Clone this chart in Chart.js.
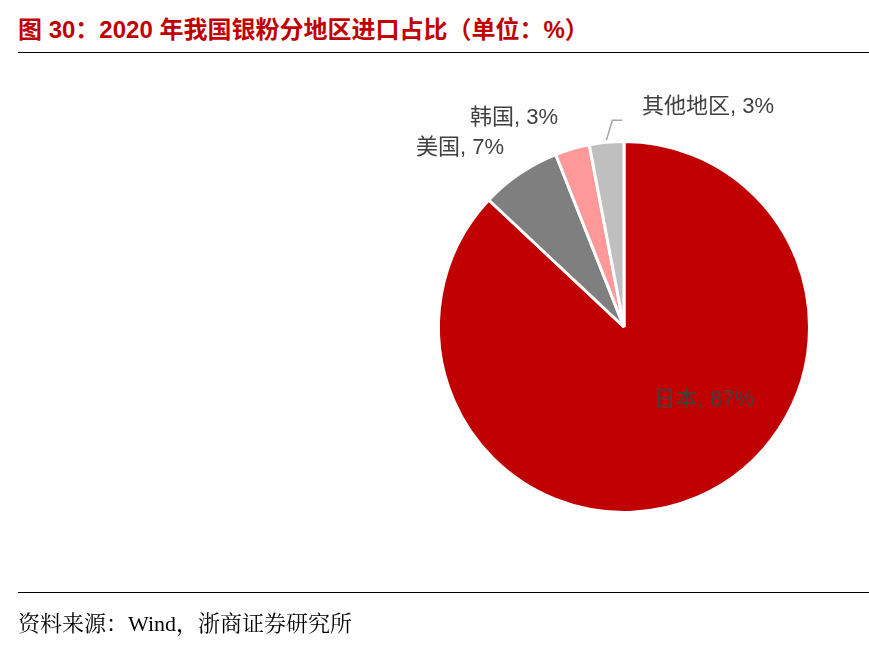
<!DOCTYPE html>
<html><head><meta charset="utf-8">
<script src="https://cdn.jsdelivr.net/npm/chart.js@4"></script>
<style>
body{margin:0;width:869px;height:648px;background:#fff;position:relative;overflow:hidden;font-family:"Liberation Sans","Noto Sans CJK SC",sans-serif}
#t{position:absolute;left:18px;top:10px;font-size:24px;font-weight:bold;color:#C00000;white-space:nowrap}
#l1{position:absolute;left:18px;top:52px;width:851px;border-top:1.5px solid #000}
#l2{position:absolute;left:18px;top:592px;width:851px;border-top:1.5px solid #000}
#s{position:absolute;left:18px;top:606px;font-size:22px;font-family:"Liberation Serif","Noto Serif CJK SC","Noto Sans CJK SC",serif;color:#000}
canvas{position:absolute;left:0;top:0}
</style></head><body>
<div id="t">图 30：2020 年我国银粉分地区进口占比（单位：%）</div>
<div id="l1"></div>
<div id="c"><canvas id="cv" width="869" height="648"></canvas></div>
<div id="l2"></div>
<div id="s">资料来源：Wind，浙商证券研究所</div>
<script>
const categories=["日本","美国","韩国","其他地区"];
const values=[87,7,3,3];
const colors=["#C00000","#7F7F7F","#FF9999","#BFBFBF"];
const labelPos=[[704,400,"center"],[460,148,"center"],[514,118,"center"],[708,107,"center"]];
const labelPlugin={id:"lbl",afterDraw(ch){
 const c=ch.ctx;c.save();c.font='22px "Liberation Sans","Noto Sans CJK SC",sans-serif';c.fillStyle="#404040";c.textBaseline="middle";
 categories.forEach((n,i)=>{const p=labelPos[i];c.textAlign=p[2];c.fillText(n+", "+values[i]+"%",p[0],p[1]);});
 const arc=ch.getDatasetMeta(0).data[3];const a=(arc.startAngle+arc.endAngle)/2;
 const x0=arc.x+Math.cos(a)*(arc.outerRadius+2),y0=arc.y+Math.sin(a)*(arc.outerRadius+2);
 c.strokeStyle="#A6A6A6";c.lineWidth=1.5;c.beginPath();c.moveTo(x0,y0);c.lineTo(x0+6,y0-20);c.lineTo(x0+16,y0-20);c.stroke();
 c.restore();}};
new Chart(document.getElementById("cv"),{type:"pie",
 data:{labels:categories,datasets:[{data:values,backgroundColor:colors,borderColor:"#fff",borderWidth:3,hoverOffset:0}]},
 options:{responsive:false,animation:false,layout:{padding:{left:437,right:58,top:140,bottom:134}},
  plugins:{legend:{display:false},tooltip:{enabled:false}}},
 plugins:[labelPlugin]});
</script></body></html>
